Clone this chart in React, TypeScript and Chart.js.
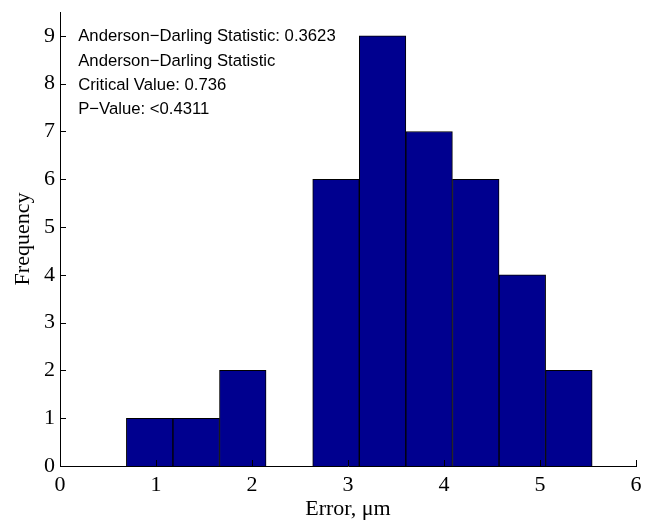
import React, { useEffect, useRef } from 'react';
import { Chart, registerables } from 'chart.js';

Chart.register(...registerables);

// Histogram bins (centres, µm) and frequencies
const binCenters = [0.934, 1.419, 1.904, 2.389, 2.875, 3.36, 3.845, 4.331, 4.816, 5.301];
const counts = [1, 1, 2, 0, 6, 9, 7, 6, 4, 2];
const xTickValues = [0, 1, 2, 3, 4, 5, 6];
const yTickValues = [0, 1, 2, 3, 4, 5, 6, 7, 8, 9];
const annotationLines = [
  'Anderson\u2212Darling Statistic: 0.3623',
  'Anderson\u2212Darling Statistic',
  'Critical Value: 0.736',
  'P\u2212Value: <0.4311',
];

const SERIF = '"Liberation Serif", "Times New Roman", Times, serif';
const SANS = '"Liberation Sans", Arial, Helvetica, sans-serif';

const overlayPlugin = {
  id: 'overlay',
  afterDatasetsDraw(chart: any) {
    const { ctx, chartArea } = chart;
    const xs = chart.scales.x;
    const ys = chart.scales.y;
    ctx.save();
    ctx.strokeStyle = '#000';
    ctx.lineWidth = 1;
    ctx.beginPath();
    for (const v of xTickValues) {
      const px = Math.round(xs.getPixelForValue(v)) + 0.5;
      ctx.moveTo(px, chartArea.bottom);
      ctx.lineTo(px, chartArea.bottom - 6);
    }
    for (const v of yTickValues) {
      const py = Math.round(ys.getPixelForValue(v)) + 0.5;
      ctx.moveTo(chartArea.left, py);
      ctx.lineTo(chartArea.left + 6, py);
    }
    ctx.stroke();

    ctx.font = '16.7px ' + SANS;
    ctx.fillStyle = '#000';
    ctx.textAlign = 'left';
    ctx.textBaseline = 'middle';
    const x0 = xs.getPixelForValue(0.19);
    const y0 = ys.getPixelForValue(8.98);
    annotationLines.forEach((t, i) => {
      ctx.fillText(t, x0, y0 + i * 24.3);
    });
    ctx.restore();
  },
};

export default function App() {
  const canvasRef = useRef<HTMLCanvasElement | null>(null);

  useEffect(() => {
    if (!canvasRef.current) return;
    const chart = new Chart(canvasRef.current, {
      type: 'bar',
      data: {
        datasets: [
          {
            data: binCenters.map((c, i) => ({ x: c, y: counts[i] })),
            backgroundColor: 'rgb(0,0,143)',
            borderColor: '#000',
            borderWidth: 1,
            borderSkipped: 'start',
            barPercentage: 1,
            categoryPercentage: 1,
          },
        ],
      },
      options: {
        responsive: false,
        animation: false,
        layout: { padding: { left: 0, top: 12, right: 18, bottom: 0 } },
        plugins: {
          legend: { display: false },
          tooltip: { enabled: false },
        },
        scales: {
          x: {
            type: 'linear',
            offset: false,
            min: 0,
            max: 6,
            z: 1,
            grid: { display: false, drawTicks: false },
            border: { display: true, color: '#000', width: 1 },
            afterBuildTicks: (s: any) => {
              s.ticks = xTickValues.map((v) => ({ value: v }));
            },
            afterFit: (s: any) => {
              s.height = 56;
              s.paddingLeft = 0;
              s.paddingRight = 0;
            },
            ticks: {
              maxRotation: 0,
              autoSkip: false,
              padding: 6,
              color: '#000',
              font: { family: SERIF, size: 22 },
            },
            title: {
              display: true,
              text: 'Error, \u03bcm',
              color: '#000',
              font: { family: SERIF, size: 22 },
              padding: { top: 0, bottom: 0 },
            },
          },
          y: {
            type: 'linear',
            min: 0,
            max: 9.5,
            z: 1,
            grid: { display: false, drawTicks: false },
            border: { display: true, color: '#000', width: 1 },
            afterBuildTicks: (s: any) => {
              s.ticks = yTickValues.map((v) => ({ value: v }));
            },
            afterFit: (s: any) => {
              s.width = 60;
              s.paddingTop = 0;
              s.paddingBottom = 0;
            },
            ticks: {
              autoSkip: false,
              padding: 5,
              color: '#000',
              font: { family: SERIF, size: 22 },
            },
            title: {
              display: true,
              text: 'Frequency',
              color: '#000',
              font: { family: SERIF, size: 22 },
              padding: { top: 10, bottom: 0 },
            },
          },
        },
      },
      plugins: [overlayPlugin],
    });
    return () => chart.destroy();
  }, []);

  return (
    <div style={{ position: 'absolute', left: 0, top: 0, width: 654, height: 522, background: '#fff' }}>
      <canvas ref={canvasRef} width={654} height={522} />
    </div>
  );
}
